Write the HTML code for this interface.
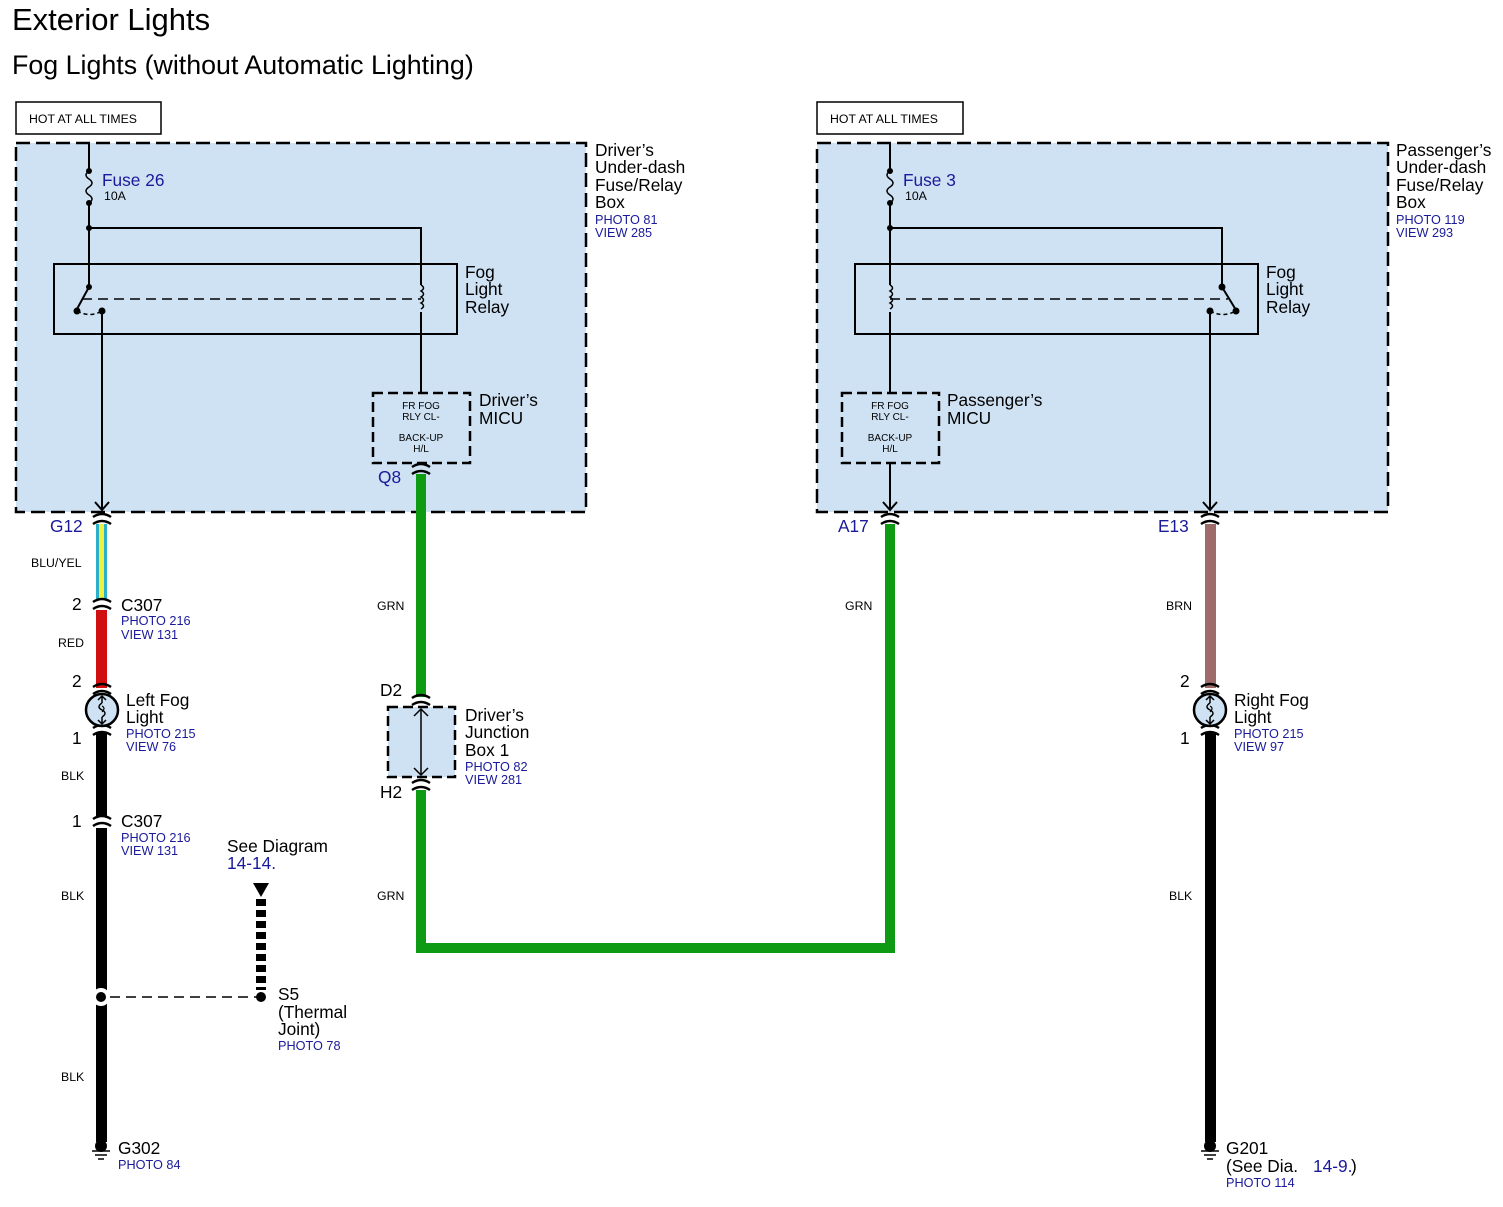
<!DOCTYPE html>
<html><head><meta charset="utf-8"><style>
html,body{margin:0;padding:0;background:#fff}
svg{display:block}
text{font-family:"Liberation Sans",Arial,sans-serif}
.b{fill:#000;font-size:17.3px}
.s{fill:#000;font-size:12.3px}
.blu{fill:#1a1a9a;font-size:12.7px}
.blub{fill:#1a1a9a;font-size:17.3px}
.t{fill:#000;font-size:10px}
</style></head><body>
<svg width="1503" height="1207" viewBox="0 0 1503 1207" xmlns="http://www.w3.org/2000/svg">
<defs>
<g id="conn"><path d="M-9,-3 Q0,-9 9,-3" fill="none" stroke="#000" stroke-width="2.5"/><path d="M-9,4 Q0,-2 9,4" fill="none" stroke="#000" stroke-width="2.5"/></g>
<g id="lamp"><circle r="16" fill="#cfe2f3" stroke="#000" stroke-width="2.5"/><path d="M0,-14 L0,-7 M0,7 L0,14 M-4,-10 L0,-14 L4,-10 M-4,10 L0,14 L4,10 M0,-7 Q-6,-3 0,0 Q6,3 0,7" fill="none" stroke="#000" stroke-width="1.5"/><path d="M0,-4 Q4,-2 0,2" fill="none" stroke="#000" stroke-width="1.2"/></g>
<g id="gnd"><circle r="6" fill="#000"/><line x1="-9" y1="5" x2="9" y2="5" stroke="#000" stroke-width="1.5"/><line x1="-6" y1="9" x2="6" y2="9" stroke="#000" stroke-width="1.5"/><line x1="-3" y1="13" x2="3" y2="13" stroke="#000" stroke-width="1.5"/></g>
<g id="coil"><path d="M0,-14 q5,3 0,6 q5,3 0,6 q5,3 0,6 q5,3 0,6" fill="none" stroke="#000" stroke-width="1.5"/></g>
<g id="fuse"><path d="M0,-16 q-6,4 0,8 q6,4 0,8 q-6,4 0,8 q6,4 0,8" fill="none" stroke="#000" stroke-width="1.5"/><circle cy="-16" r="3"/><circle cy="16" r="3"/></g>
</defs>

<text x="12" y="30" style="font-size:31px;fill:#000">Exterior Lights</text>
<text x="12" y="74" style="font-size:26.8px;fill:#000">Fog Lights (without Automatic Lighting)</text>

<rect x="16" y="102" width="145" height="32" fill="#fff" stroke="#000" stroke-width="1.5"/>
<text x="29" y="123" class="s">HOT AT ALL TIMES</text>
<rect x="817" y="102" width="146" height="32" fill="#fff" stroke="#000" stroke-width="1.5"/>
<text x="830" y="123" class="s">HOT AT ALL TIMES</text>

<rect x="16" y="143" width="570" height="369" fill="#cfe2f3" stroke="#000" stroke-width="2.5" stroke-dasharray="14,6"/>
<rect x="817" y="143" width="571" height="369" fill="#cfe2f3" stroke="#000" stroke-width="2.5" stroke-dasharray="14,6"/>

<g stroke="#000" stroke-width="2" fill="none">
<line x1="89" y1="143" x2="89" y2="171"/><line x1="89" y1="203" x2="89" y2="287"/>
<polyline points="89,228 421,228 421,285"/>
<line x1="421" y1="312" x2="421" y2="393"/>
<rect x="54" y="264" width="403" height="70"/>
<line x1="89" y1="287" x2="77" y2="309"/>
<line x1="102" y1="311" x2="102" y2="510"/>
<polyline points="95,502 102,510 109,502"/>
<line x1="1210" y1="311" x2="1210" y2="510"/>
<polyline points="1203,502 1210,510 1217,502"/>
<line x1="890" y1="143" x2="890" y2="171"/><line x1="890" y1="203" x2="890" y2="285"/>
<polyline points="890,228 1222,228 1222,287"/>
<line x1="890" y1="312" x2="890" y2="393"/>
<line x1="890" y1="463" x2="890" y2="510"/>
<polyline points="883,502 890,510 897,502"/>
<rect x="855" y="264" width="403" height="70"/>
<line x1="1222" y1="287" x2="1236" y2="310"/>
</g>
<g stroke="#000" stroke-width="1.5" fill="none" stroke-dasharray="10,6">
<line x1="82" y1="299" x2="421" y2="299"/>
<path d="M77,311 Q90,318 102,311" stroke-dasharray="4,3"/>
<line x1="890" y1="299" x2="1228" y2="299"/>
<path d="M1210,311 Q1223,318 1236,311" stroke-dasharray="4,3"/>
</g>
<g fill="#000">
<circle cx="89" cy="228" r="3"/><circle cx="89" cy="287" r="3"/><circle cx="77" cy="311" r="3.5"/><circle cx="102" cy="311" r="3.5"/>
<circle cx="890" cy="228" r="3"/><circle cx="1222" cy="287" r="3.5"/><circle cx="1236" cy="311" r="3.5"/><circle cx="1210" cy="311" r="3.5"/>
</g>
<use href="#fuse" x="89" y="187"/>
<use href="#fuse" x="890" y="187"/>
<use href="#coil" x="421" y="299"/>
<use href="#coil" x="890" y="299"/>

<text x="102" y="186" class="blub">Fuse 26</text><text x="104" y="200" class="s">10A</text>
<text x="903" y="186" class="blub">Fuse 3</text><text x="905" y="200" class="s">10A</text>
<text class="b"><tspan x="465" y="278">Fog</tspan><tspan x="465" y="295">Light</tspan><tspan x="465" y="313">Relay</tspan></text>
<text class="b"><tspan x="1266" y="278">Fog</tspan><tspan x="1266" y="295">Light</tspan><tspan x="1266" y="313">Relay</tspan></text>

<text class="b"><tspan x="595" y="156">Driver’s</tspan><tspan x="595" y="173">Under-dash</tspan><tspan x="595" y="191">Fuse/Relay</tspan><tspan x="595" y="208">Box</tspan></text>
<text class="blu"><tspan x="595" y="224">PHOTO 81</tspan><tspan x="595" y="237">VIEW 285</tspan></text>
<text class="b"><tspan x="1396" y="156">Passenger’s</tspan><tspan x="1396" y="173">Under-dash</tspan><tspan x="1396" y="191">Fuse/Relay</tspan><tspan x="1396" y="208">Box</tspan></text>
<text class="blu"><tspan x="1396" y="224">PHOTO 119</tspan><tspan x="1396" y="237">VIEW 293</tspan></text>

<rect x="373" y="393" width="97" height="70" fill="none" stroke="#000" stroke-width="2.5" stroke-dasharray="10,5"/>
<text class="t" text-anchor="middle"><tspan x="421" y="409">FR FOG</tspan><tspan x="421" y="420">RLY CL-</tspan><tspan x="421" y="441">BACK-UP</tspan><tspan x="421" y="452">H/L</tspan></text>
<text class="b"><tspan x="479" y="406">Driver’s</tspan><tspan x="479" y="424">MICU</tspan></text>
<rect x="842" y="393" width="97" height="70" fill="none" stroke="#000" stroke-width="2.5" stroke-dasharray="10,5"/>
<text class="t" text-anchor="middle"><tspan x="890" y="409">FR FOG</tspan><tspan x="890" y="420">RLY CL-</tspan><tspan x="890" y="441">BACK-UP</tspan><tspan x="890" y="452">H/L</tspan></text>
<text class="b"><tspan x="947" y="406">Passenger’s</tspan><tspan x="947" y="424">MICU</tspan></text>

<rect x="96" y="524" width="11" height="76" fill="#2ab0c8"/>
<rect x="99" y="524" width="5" height="76" fill="#f0f040"/>
<rect x="96" y="610" width="11" height="78" fill="#d01010"/>
<rect x="96" y="732" width="11" height="84" fill="#000"/>
<rect x="96" y="828" width="11" height="314" fill="#000"/>
<rect x="1205" y="524" width="11" height="164" fill="#9e6b6b"/>
<rect x="1205" y="732" width="11" height="410" fill="#000"/>
<path d="M421,474 V697 M421,790 V948 H890 V524" fill="none" stroke="#0e9a12" stroke-width="10"/>

<use href="#conn" x="102" y="520"/><use href="#conn" x="102" y="605"/><use href="#conn" x="102" y="690"/><use href="#conn" x="102" y="731"/><use href="#conn" x="102" y="822"/>
<use href="#conn" x="421" y="470"/><use href="#conn" x="421" y="701"/><use href="#conn" x="421" y="786"/>
<use href="#conn" x="890" y="520"/><use href="#conn" x="1210" y="520"/><use href="#conn" x="1210" y="690"/><use href="#conn" x="1210" y="731"/>
<use href="#lamp" x="102" y="710"/><use href="#lamp" x="1210" y="710"/>
<use href="#gnd" x="101" y="1146"/><use href="#gnd" x="1210" y="1146"/>

<rect x="388" y="707" width="67" height="70" fill="#cfe2f3" stroke="#000" stroke-width="2.5" stroke-dasharray="10,5"/>
<g stroke="#000" stroke-width="1.5" fill="none"><line x1="421" y1="709" x2="421" y2="775"/><polyline points="414,716 421,709 428,716"/><polyline points="414,768 421,775 428,768"/></g>
<text class="b"><tspan x="465" y="721">Driver’s</tspan><tspan x="465" y="738">Junction</tspan><tspan x="465" y="756">Box 1</tspan></text>
<text class="blu"><tspan x="465" y="771">PHOTO 82</tspan><tspan x="465" y="784">VIEW 281</tspan></text>
<text x="380" y="696" class="b">D2</text><text x="380" y="798" class="b">H2</text>

<line x1="110" y1="997" x2="258" y2="997" stroke="#000" stroke-width="1.5" stroke-dasharray="10,6"/>
<circle cx="101" cy="997" r="9" fill="#fff"/><circle cx="101" cy="997" r="5" fill="#000"/>
<circle cx="261" cy="997" r="5" fill="#000"/>
<line x1="261" y1="899" x2="261" y2="990" stroke="#000" stroke-width="10" stroke-dasharray="7,4"/>
<polygon points="253,883 269,883 261,897" fill="#000"/>
<text class="b"><tspan x="227" y="852">See Diagram</tspan></text><text x="227" y="869" class="blub">14-14.</text>
<text class="b"><tspan x="278" y="1000">S5</tspan><tspan x="278" y="1018">(Thermal</tspan><tspan x="278" y="1035">Joint)</tspan></text>
<text x="278" y="1050" class="blu">PHOTO 78</text>

<text x="50" y="532" class="blub">G12</text>
<text x="378" y="483" class="blub">Q8</text>
<text x="838" y="532" class="blub">A17</text>
<text x="1158" y="532" class="blub">E13</text>
<text x="31" y="567" class="s">BLU/YEL</text>
<text x="58" y="647" class="s">RED</text>
<text x="61" y="780" class="s">BLK</text>
<text x="61" y="900" class="s">BLK</text>
<text x="61" y="1081" class="s">BLK</text>
<text x="377" y="610" class="s">GRN</text>
<text x="377" y="900" class="s">GRN</text>
<text x="845" y="610" class="s">GRN</text>
<text x="1166" y="610" class="s">BRN</text>
<text x="1169" y="900" class="s">BLK</text>
<text x="72" y="610" class="b">2</text><text x="72" y="687" class="b">2</text><text x="72" y="744" class="b">1</text><text x="72" y="827" class="b">1</text>
<text x="1180" y="687" class="b">2</text><text x="1180" y="744" class="b">1</text>
<text x="121" y="611" class="b">C307</text><text class="blu"><tspan x="121" y="625">PHOTO 216</tspan><tspan x="121" y="639">VIEW 131</tspan></text>
<text x="121" y="827" class="b">C307</text><text class="blu"><tspan x="121" y="842">PHOTO 216</tspan><tspan x="121" y="855">VIEW 131</tspan></text>
<text class="b"><tspan x="126" y="706">Left Fog</tspan><tspan x="126" y="723">Light</tspan></text>
<text class="blu"><tspan x="126" y="738">PHOTO 215</tspan><tspan x="126" y="751">VIEW 76</tspan></text>
<text class="b"><tspan x="1234" y="706">Right Fog</tspan><tspan x="1234" y="723">Light</tspan></text>
<text class="blu"><tspan x="1234" y="738">PHOTO 215</tspan><tspan x="1234" y="751">VIEW 97</tspan></text>
<text x="118" y="1154" class="b">G302</text><text x="118" y="1169" class="blu">PHOTO 84</text>
<text x="1226" y="1154" class="b">G201</text>
<text x="1226" y="1172" class="b">(See Dia.</text><text x="1313" y="1172" class="blub">14-9.</text><text x="1351" y="1172" class="b">)</text>
<text x="1226" y="1187" class="blu">PHOTO 114</text>
</svg>
</body></html>
